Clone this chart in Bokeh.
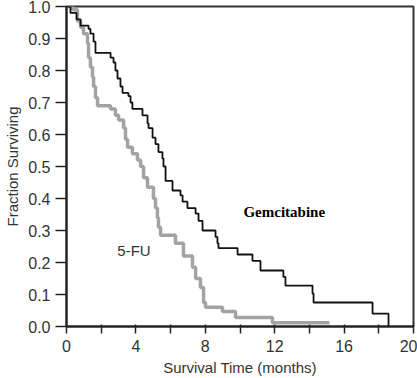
from bokeh.plotting import figure
from bokeh.models import FixedTicker, Range1d, NumeralTickFormatter
from bokeh.core.properties import value
from bokeh.embed import file_html
from bokeh.resources import INLINE

# Gemcitabine arm (Kaplan-Meier step points)
gem_t = [0, 0.23, 0.58, 0.81, 1.27, 1.38, 1.56, 1.67, 2.54, 2.71, 2.82, 2.94, 3.11, 3.23,
         3.57, 3.69, 3.80, 4.38, 4.67, 4.73, 4.96, 5.13, 5.30, 5.53, 5.59, 5.71, 6.11, 6.57,
         6.69, 6.97, 7.44, 7.61, 7.84, 8.59, 8.70, 8.76, 9.86, 10.72, 11.18, 12.50, 12.62,
         14.18, 14.24, 17.64, 18.56]
gem_s = [1.0, 0.98, 0.96, 0.94, 0.93, 0.915, 0.89, 0.855, 0.84, 0.825, 0.80, 0.775, 0.75, 0.73,
         0.72, 0.70, 0.68, 0.66, 0.635, 0.62, 0.59, 0.57, 0.545, 0.525, 0.50, 0.455, 0.425, 0.41,
         0.39, 0.37, 0.353, 0.33, 0.30, 0.28, 0.26, 0.245, 0.225, 0.205, 0.175, 0.155, 0.128,
         0.103, 0.075, 0.04, 0.0]

# 5-FU arm
fu_t = [0, 0.35, 0.63, 0.81, 0.98, 1.21, 1.27, 1.38, 1.50, 1.56, 1.67, 1.79, 2.54, 2.82, 3.00,
        3.29, 3.40, 3.52, 3.80, 4.09, 4.27, 4.44, 4.67, 5.01, 5.13, 5.24, 5.30, 5.42, 6.28, 6.74,
        7.26, 7.44, 7.72, 7.90, 8.01, 8.99, 9.74, 11.87, 15.16]
fu_s = [1.0, 0.99, 0.955, 0.935, 0.915, 0.885, 0.84, 0.81, 0.78, 0.75, 0.715, 0.69, 0.68, 0.66,
        0.645, 0.62, 0.585, 0.56, 0.54, 0.52, 0.50, 0.465, 0.435, 0.40, 0.37, 0.34, 0.31, 0.285,
        0.26, 0.22, 0.185, 0.15, 0.122, 0.075, 0.06, 0.047, 0.028, 0.012, 0.012]

x_ticks = [0, 2, 4, 6, 8, 10, 12, 14, 16, 18, 20]
x_labels = {0: "0", 2: "", 4: "4", 6: "", 8: "8", 10: "", 12: "12", 14: "", 16: "16", 18: "", 20: "20"}
y_ticks = [0.0, 0.1, 0.2, 0.3, 0.4, 0.5, 0.6, 0.7, 0.8, 0.9, 1.0]

p = figure(width=417, height=378, output_backend="svg", toolbar_location=None,
           x_range=Range1d(0, 20), y_range=Range1d(0, 1),
           min_border_left=66, min_border_right=4, min_border_top=6, min_border_bottom=52)
p.xgrid.visible = False
p.ygrid.visible = False
p.outline_line_color = "#333333"
p.outline_line_width = 2
p.background_fill_color = "white"
p.border_fill_color = "white"

p.step(fu_t, fu_s, mode="after", line_color="#a3a3a3", line_width=3.5)
p.step(gem_t, gem_s, mode="after", line_color="#111111", line_width=1.8)

p.text(x=[3.89], y=[0.2375], text=["5-FU"], text_font=value("Liberation Sans"),
       text_font_size="15px", text_color="#333333", text_align="center", text_baseline="middle")
p.text(x=[12.55], y=[0.357], text=["Gemcitabine"], text_font=value("Liberation Serif"),
       text_font_size="15px", text_font_style="bold", text_color="#000000",
       text_align="center", text_baseline="middle")

for ax in (p.xaxis[0], p.yaxis[0]):
    ax.axis_line_width = 2
    ax.axis_line_color = "#222222"
    ax.major_tick_line_color = "#222222"
    ax.major_tick_line_width = 1.5
    ax.minor_tick_line_color = None
    ax.major_label_text_font = "Liberation Sans"
    ax.major_label_text_font_size = "16px"
    ax.major_label_text_color = "#333333"
    ax.axis_label_text_font = "Liberation Sans"
    ax.axis_label_text_font_size = "15px"
    ax.axis_label_text_font_style = "normal"
    ax.axis_label_text_color = "#333333"

p.xaxis.ticker = FixedTicker(ticks=x_ticks)
p.xaxis.major_label_overrides = x_labels
p.xaxis.major_tick_in = 2
p.xaxis.major_tick_out = 7
p.xaxis.major_label_standoff = 6
p.xaxis.axis_label = "Survival Time (months)"
p.xaxis.axis_label_standoff = 4

p.yaxis.ticker = FixedTicker(ticks=y_ticks)
p.yaxis.formatter = NumeralTickFormatter(format="0.0")
p.yaxis.major_tick_in = 0
p.yaxis.major_tick_out = 11
p.yaxis.major_label_standoff = 5
p.yaxis.axis_label = "Fraction Surviving"
p.yaxis.axis_label_standoff = 4

open("out.html", "w").write(file_html(p, INLINE))
